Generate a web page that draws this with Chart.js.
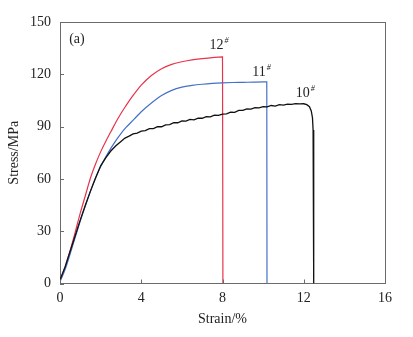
<!DOCTYPE html>
<html>
<head>
<meta charset="utf-8">
<script src="https://cdn.jsdelivr.net/npm/chart.js@4.4.0/dist/chart.umd.min.js"></script>
<style>
  html, body { margin: 0; padding: 0; background: #fff; }
</style>
</head>
<body>
<canvas id="chart" width="413" height="337"></canvas>
<script>
// Courbes contrainte-déformation
const strain12 = [0, 0.25, 0.5, 0.75, 1.0, 1.25, 1.5, 1.75, 2.0, 2.25, 2.5, 2.75, 3.0, 3.25, 3.5, 3.75, 4.0, 4.5, 5.0, 5.5, 6.0, 6.5, 7.0, 7.5, 8.0, 8.02];
const stress12 = [2, 9.5, 19, 29.5, 40.5, 50.5, 60.5, 68.5, 75.5, 81.5, 87, 92.5, 97.5, 102, 106.3, 110.2, 113.8, 119.3, 123.2, 125.7, 127.2, 128.3, 129, 129.6, 130, 0];

const strain11 = [0, 0.25, 0.5, 0.75, 1.0, 1.25, 1.5, 1.75, 2.0, 2.25, 2.5, 2.75, 3.0, 3.25, 3.5, 3.75, 4.0, 4.5, 5.0, 5.5, 6.0, 6.5, 7.0, 7.5, 8.0, 8.5, 9.0, 9.5, 10.0, 10.18, 10.19];
const stress11 = [1, 8, 17, 26.5, 36, 44.5, 53, 60.5, 67, 72.5, 77.5, 82, 86, 89.5, 92.5, 95.5, 98.5, 103.5, 107.8, 110.8, 112.6, 113.6, 114.3, 114.8, 115.1, 115.3, 115.4, 115.5, 115.6, 115.6, 0];

const strain10 = [0, 0.25, 0.5, 0.75, 1.0, 1.25, 1.5, 1.75, 2.0, 2.25, 2.5, 2.75, 3.0, 3.2, 3.4, 3.6, 3.8, 4.0, 4.2, 4.4, 4.6, 4.8, 5.0, 5.2, 5.4, 5.6, 5.8, 6.0, 6.2, 6.4, 6.6, 6.8, 7.0, 7.2, 7.4, 7.6, 7.8, 8.0, 8.2, 8.4, 8.6, 8.8, 9.0, 9.2, 9.4, 9.6, 9.8, 10.0, 10.2, 10.4, 10.6, 10.8, 11.0, 11.2, 11.4, 11.6, 11.8, 12.0, 12.15, 12.28, 12.37, 12.43, 12.46, 12.48, 12.5];
const stress10 = [2, 9.5, 18.5, 27.5, 36.5, 45, 53, 60.5, 67.5, 72, 76, 79, 81.5, 83.4, 84.5, 85.8, 86.3, 87.4, 87.7, 88.8, 88.8, 89.9, 89.9, 91.0, 91.1, 92.3, 92.2, 93.3, 93.1, 94.1, 93.9, 94.9, 94.8, 95.7, 95.6, 96.5, 96.4, 97.2, 97.3, 98.3, 98.2, 99.3, 99.3, 100.2, 100.0, 100.9, 100.7, 101.5, 101.3, 102.1, 101.8, 102.6, 102.3, 102.9, 102.7, 103.2, 103.0, 103.1, 102.6, 101.4, 99.0, 95, 88, 60, 0];

const xTicks = [0, 4, 8, 12, 16];
const yTicks = [0, 30, 60, 90, 120, 150];

// Étiquettes des éprouvettes
const sampleNames = ["12", "11", "10"];
const sampleAt = [[7.8, 136.4], [9.9, 120.9], [12.05, 108.8]];

const serif = "'Liberation Serif', 'Times New Roman', serif";

function toPoints(xs, ys) {
  return xs.map((x, i) => ({ x: x, y: ys[i] }));
}

// Plugin : petites graduations vers l'intérieur + textes
const extras = {
  id: "extras",
  afterDraw(chart) {
    const ctx = chart.ctx;
    const xs = chart.scales.x, ys = chart.scales.y;
    const area = chart.chartArea;
    ctx.save();
    ctx.strokeStyle = "#6b6b6b";
    ctx.lineWidth = 1;
    ctx.beginPath();
    xTicks.forEach(v => {
      const px = Math.round(xs.getPixelForValue(v)) + 0.5;
      ctx.moveTo(px, area.bottom);
      ctx.lineTo(px, area.bottom - 4);
    });
    yTicks.forEach(v => {
      const py = Math.round(ys.getPixelForValue(v)) + 0.5;
      ctx.moveTo(area.left, py);
      ctx.lineTo(area.left + 4, py);
    });
    ctx.stroke();

    ctx.fillStyle = "#222";
    ctx.textBaseline = "middle";
    ctx.textAlign = "left";
    ctx.font = "14px " + serif;
    ctx.fillText("(a)", xs.getPixelForValue(0.45), ys.getPixelForValue(139.9));

    sampleNames.forEach((name, i) => {
      const px = xs.getPixelForValue(sampleAt[i][0]);
      const py = ys.getPixelForValue(sampleAt[i][1]);
      ctx.font = "14px " + serif;
      const w = ctx.measureText(name).width;
      ctx.fillText(name, px - w / 2 - 2, py);
      ctx.font = "italic 8px " + serif;
      ctx.fillText("#", px + w / 2 - 1, py - 5);
    });
    ctx.restore();
  }
};

new Chart(document.getElementById("chart"), {
  type: "scatter",
  data: {
    datasets: [
      {
        label: "10#",
        data: toPoints(strain10, stress10),
        showLine: true,
        borderColor: "#111111",
        borderWidth: 1.3,
        pointRadius: 0,
        tension: 0
      },
      {
        label: "11#",
        data: toPoints(strain11, stress11),
        showLine: true,
        borderColor: "#4470c8",
        borderWidth: 1.2,
        pointRadius: 0,
        cubicInterpolationMode: "monotone"
      },
      {
        label: "12#",
        data: toPoints(strain12, stress12),
        showLine: true,
        borderColor: "#e8334c",
        borderWidth: 1.2,
        pointRadius: 0,
        cubicInterpolationMode: "monotone"
      }
    ]
  },
  options: {
    responsive: false,
    animation: false,
    layout: { padding: { left: 0, top: 22, right: 28, bottom: 0 } },
    plugins: {
      legend: { display: false },
      tooltip: { enabled: false }
    },
    scales: {
      x: {
        type: "linear",
        min: 0,
        max: 16,
        afterBuildTicks: s => { s.ticks = xTicks.map(v => ({ value: v })); },
        afterFit: s => { s.height = 53.5; },
        grid: { display: false, drawTicks: false },
        border: { display: true, color: "#6b6b6b", width: 1 },
        ticks: { color: "#222", padding: 6, font: { family: serif, size: 14 } },
        title: { display: true, text: "Strain/%", color: "#222", padding: { top: 0, bottom: 9 }, font: { family: serif, size: 14 } }
      },
      y: {
        type: "linear",
        min: 0,
        max: 150,
        afterBuildTicks: s => { s.ticks = yTicks.map(v => ({ value: v })); },
        afterFit: s => { s.width = 60; },
        grid: { display: false, drawTicks: false },
        border: { display: true, color: "#6b6b6b", width: 1 },
        ticks: { color: "#222", padding: 9, font: { family: serif, size: 14 } },
        title: { display: true, text: "Stress/MPa", color: "#222", padding: { top: 6, bottom: 0 }, font: { family: serif, size: 14 } }
      },
      x2: {
        type: "linear", position: "top", min: 0, max: 16,
        afterFit: s => { s.height = 0; },
        grid: { display: false, drawTicks: false },
        border: { display: true, color: "#6b6b6b", width: 1 },
        ticks: { display: false }
      },
      y2: {
        type: "linear", position: "right", min: 0, max: 150,
        afterFit: s => { s.width = 0; },
        grid: { display: false, drawTicks: false },
        border: { display: true, color: "#6b6b6b", width: 1 },
        ticks: { display: false }
      }
    }
  },
  plugins: [extras]
});
</script>
</body>
</html>
